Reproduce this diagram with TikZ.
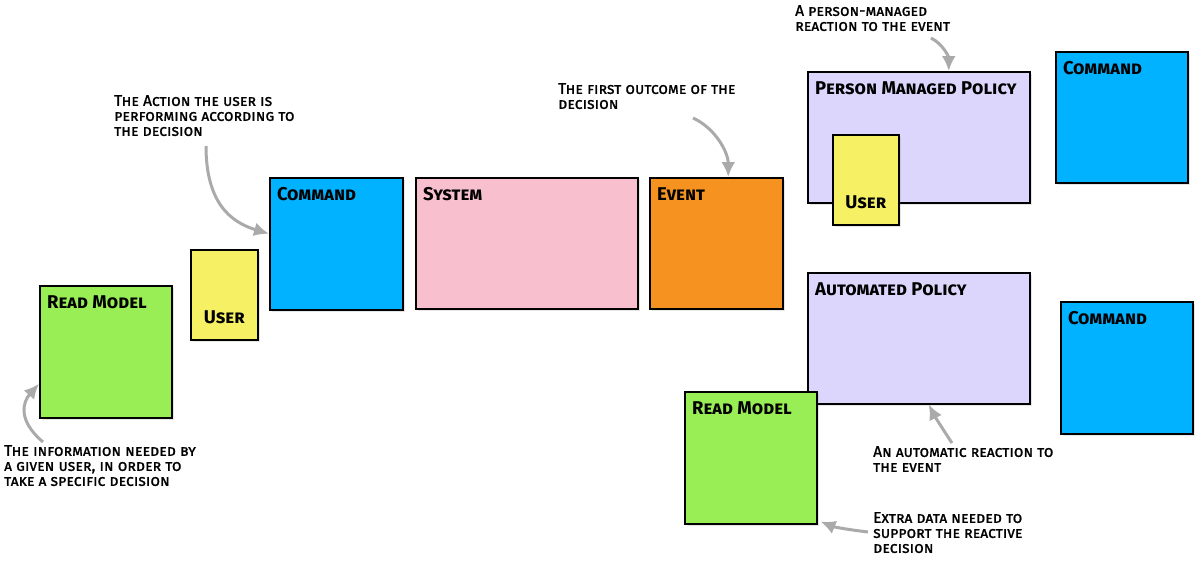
\documentclass[tikz,border=0pt]{standalone}
\usepackage{fontspec}
\setmainfont{Fira Sans}
\newfontfamily\notefont{Fira Sans}[FakeBold=1.2]
\usetikzlibrary{shapes,arrows,arrows.meta,shadows}
\definecolor{readgreen}{RGB}{153,238,85}
\definecolor{useryellow}{RGB}{245,240,100}
\definecolor{cmdblue}{RGB}{0,178,255}
\definecolor{syspink}{RGB}{248,192,206}
\definecolor{evtorange}{RGB}{245,146,32}
\definecolor{policylilac}{RGB}{221,214,252}
\definecolor{arrowgray}{RGB}{170,170,170}
\tikzstyle{sticky} = [rectangle, draw, line width=1.5pt, anchor=north west, inner sep=0pt, drop shadow={shadow xshift=2pt, shadow yshift=-2pt, opacity=0.2}]
\tikzstyle{title} = [font=\fontsize{18.5}{20}\selectfont\bfseries\scshape, inner sep=0pt]
\tikzstyle{note} = [font=\notefont\fontsize{15.5}{15}\selectfont\scshape, anchor=north west, align=left, inner sep=0pt]
\tikzstyle{line} = [draw, -{Latex[length=15pt,width=14pt]}, line width=3pt, color=arrowgray]

\begin{document}
\begin{tikzpicture} [x=1pt, y=-1pt]
        \useasboundingbox (0,0) rectangle (1200,563);

        % decision
        \node[sticky, fill=readgreen, minimum width=132pt, minimum height=132pt, label={[title, anchor=north west, xshift=8pt, yshift=-10pt]north west:Read Model}] (RMa) at (39,285) {};
        \node[sticky, fill=useryellow, minimum width=67pt, minimum height=90pt, label={[title, anchor=south, yshift=16pt]south:User}] (USa) at (190,249) {};
        \node[sticky, fill=cmdblue, minimum width=133pt, minimum height=132pt, label={[title, anchor=north west, xshift=8pt, yshift=-10pt]north west:Command}] (CMa) at (269,177) {};
        \node[sticky, fill=syspink, minimum width=222pt, minimum height=131pt, label={[title, anchor=north west, xshift=8pt, yshift=-10pt]north west:System}] (SYS) at (415,177) {};
        \node[sticky, fill=evtorange, minimum width=133pt, minimum height=131pt, label={[title, anchor=north west, xshift=8pt, yshift=-10pt]north west:Event}] (EV) at (649,177) {};

        % reaction
        \node[sticky, fill=policylilac, minimum width=222pt, minimum height=131pt, label={[title, anchor=north west, xshift=8pt, yshift=-10pt]north west:Person Managed Policy}] (PMP) at (807,71) {};
        \node[sticky, fill=useryellow, minimum width=66pt, minimum height=90pt, label={[title, anchor=south, yshift=16pt]south:User}] (USb) at (832,134) {};
        \node[sticky, fill=cmdblue, minimum width=132pt, minimum height=131pt, label={[title, anchor=north west, xshift=8pt, yshift=-10pt]north west:Command}] (CMb) at (1055,51) {};
        \node[sticky, fill=policylilac, minimum width=222pt, minimum height=131pt, label={[title, anchor=north west, xshift=8pt, yshift=-10pt]north west:Automated Policy}] (AUTO) at (807,272) {};
        \node[sticky, fill=cmdblue, minimum width=132pt, minimum height=132pt, label={[title, anchor=north west, xshift=8pt, yshift=-10pt]north west:Command}] (CMc) at (1060,301) {};
        \node[sticky, fill=readgreen, minimum width=132pt, minimum height=132pt, label={[title, anchor=north west, xshift=8pt, yshift=-10pt]north west:Read Model}] (RMb) at (684,391) {};

        % notes
        \node[note] (nAction) at (114,95) {The Action the user is\\performing according to\\the decision};
        \node[note] (nOutcome) at (558,83) {The first outcome of the\\decision};
        \node[note] (nPerson) at (795,5) {A person-managed\\reaction to the event};
        \node[note] (nInfo) at (4,445) {The information needed by\\a given user, in order to\\take a specific decision};
        \node[note] (nAuto) at (873,446) {An automatic reaction to\\the event};
        \node[note] (nExtra) at (873,512) {Extra data needed to\\support the reactive\\decision};

        \coordinate (aAction) at (206,146);
        \coordinate (aOutcome) at (693,118);
        \coordinate (aPerson) at (931,38);
        \coordinate (aInfo) at (43,442);
        \coordinate (aAuto) at (952,443);
        \coordinate (aExtra) at (868,532);

        \path [line] (aAction) .. controls +(0,55) and +(-40,-12) .. ([yshift=10pt]CMa.west);
        \path [line] (aOutcome) .. controls +(22,10) and +(0,-25) .. ([xshift=12pt]EV.north);
        \path [line] (aPerson) .. controls +(12,6) and +(0,-14) .. ([xshift=30pt]PMP.north);
        \path [line] (aInfo) .. controls +(-26,-22) and +(-16,18) .. ([yshift=-32pt]RMa.west);
        \path [line] (aAuto) .. controls +(-10,-15) and +(5,10) .. ([xshift=10pt]AUTO.south);
        \path [line] (aExtra) .. controls +(-25,-3) and +(12,5) .. ([xshift=3pt,yshift=3pt]RMb.south east);

\end{tikzpicture}
\end{document}
